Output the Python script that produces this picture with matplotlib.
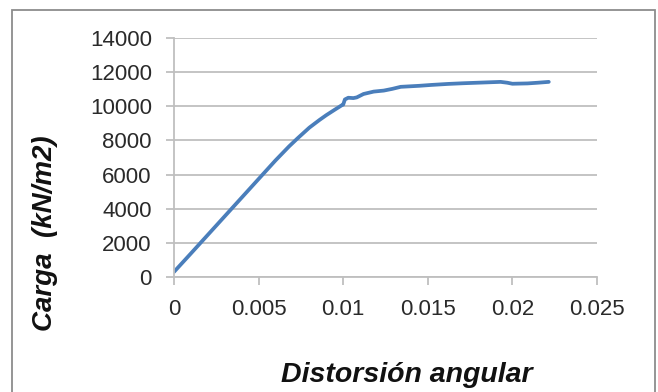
import matplotlib
matplotlib.use("Agg")
import matplotlib.pyplot as plt
from matplotlib.patches import Rectangle

distorsion = [0.0, 0.0010, 0.0020, 0.0030, 0.0040, 0.0051, 0.0060, 0.0068, 0.0073, 0.0080,
              0.0086, 0.0090, 0.0095, 0.0099, 0.0100, 0.0101, 0.0103, 0.0106, 0.0108,
              0.0112, 0.0118, 0.0124, 0.0129, 0.0134, 0.0145, 0.0152, 0.0162, 0.0171,
              0.0182, 0.0193, 0.0197, 0.0200, 0.0209, 0.0215, 0.02215]
carga = [300, 1380, 2470, 3560, 4650, 5850, 6830, 7650, 8120, 8750,
         9200, 9480, 9800, 10050, 10100, 10400, 10500, 10480, 10520,
         10720, 10860, 10920, 11020, 11140, 11200, 11250, 11310, 11350,
         11390, 11430, 11380, 11320, 11340, 11380, 11430]

xticks = [0, 0.005, 0.01, 0.015, 0.02, 0.025]
xticklabels = ["0", "0.005", "0.01", "0.015", "0.02", "0.025"]
yticks = [0, 2000, 4000, 6000, 8000, 10000, 12000, 14000]

fig = plt.figure(figsize=(6.58, 3.92), dpi=100)
fig.patch.set_facecolor("white")
ax = fig.add_axes([174/658, 1 - 277/392, (597 - 174)/658, (277 - 38)/392])

ax.plot(distorsion, carga, color="#4A7EBB", linewidth=2.7, solid_capstyle="round",
        solid_joinstyle="round")

ax.set_xlim(0, 0.025)
ax.set_ylim(0, 14000)
ax.set_xticks(xticks)
ax.set_xticklabels(xticklabels)
ax.set_yticks(yticks)
ax.set_yticklabels([str(v) for v in yticks])

for s in ["top", "right"]:
    ax.spines[s].set_visible(False)
ax.spines["left"].set_color("#BFBFBF")
ax.spines["bottom"].set_color("#BFBFBF")
ax.spines["left"].set_linewidth(1.3)
ax.spines["bottom"].set_linewidth(1.3)
ax.yaxis.grid(True, color="#BFBFBF", linewidth=1.3)
ax.set_axisbelow(True)
ax.tick_params(axis="both", colors="#BFBFBF", length=6, width=1.3, labelsize=16,
               labelcolor="#2A2A2A")
ax.tick_params(axis="x", pad=10)
ax.tick_params(axis="y", pad=10)
for lab in ax.get_xticklabels() + ax.get_yticklabels():
    lab.set_family("Liberation Sans")

fig.text(45/658, 1 - 233/392, "Carga  (kN/m2)", rotation=90, ha="center", va="center",
         fontsize=20, fontweight="bold", fontstyle="italic", family="Liberation Sans",
         color="#111111")
fig.text(407/658, 1 - 375/392, "Distorsión angular", ha="center", va="center",
         fontsize=20.5, fontweight="bold", fontstyle="italic", family="Liberation Sans",
         color="#111111")

fig.patches.append(Rectangle((12/658, -0.05), (655 - 12)/658, 1 - 10/392 + 0.05,
                             transform=fig.transFigure, fill=False,
                             edgecolor="#8C8C8C", linewidth=1.3))

fig.savefig("out.png", dpi=100)
